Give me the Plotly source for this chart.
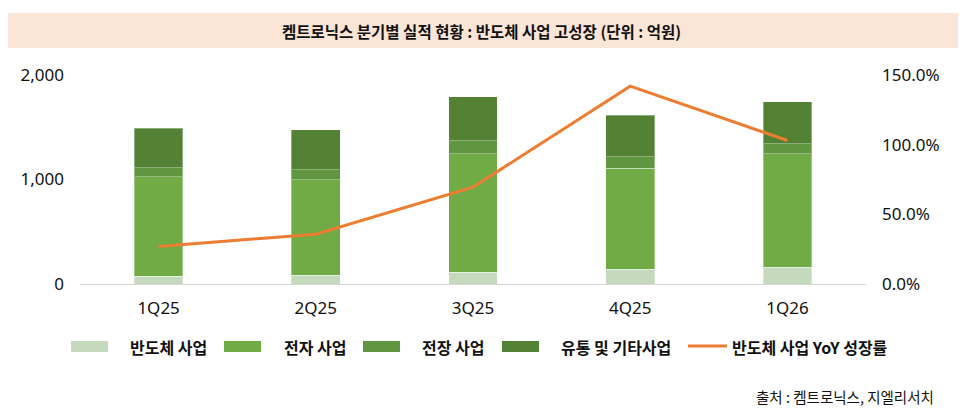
import plotly.graph_objects as go

# 분기별 실적 (억원)
quarters = ['1Q25', '2Q25', '3Q25', '4Q25', '1Q26']
semi = [76, 86, 114, 143, 162]          # 반도체 사업
electronics = [952, 914, 1133, 965, 1083]  # 전자 사업
auto = [86, 95, 124, 109, 98]           # 전장 사업
dist = [378, 381, 419, 400, 400]        # 유통 및 기타사업
semi_yoy = [27.0, 35.7, 69.5, 142.0, 103.0]  # 반도체 사업 YoY 성장률 (%)
yoy_ticks = [0, 50, 100, 150]

bar_names = ['반도체 사업', '전자 사업', '전장 사업', '유통 및 기타사업']
line_name = '반도체 사업 YoY 성장률'
bar_colors = ['#C5D9BC', '#70AB46', '#619641', '#548234']
line_color = '#ED7D31'

# page body has an 8px margin, so the figure is drawn 8px in and down
OFF = 8
W, H = 966 - OFF, 415 - OFF
# plot area in screen pixels
L, R, T, B = 80, 866, 75, 284


def px_x(x):
    return (x - L) / (R - L)


def px_y(y):
    return (B - y) / (B - T)


fig = go.Figure()

for name, vals, col in zip(bar_names, [semi, electronics, auto, dist], bar_colors):
    fig.add_trace(go.Bar(
        x=quarters, y=vals, name=name,
        marker=dict(color=col, line=dict(color='rgba(255,255,255,0.35)', width=1)),
        showlegend=False,
    ))

fig.add_trace(go.Scatter(
    x=quarters, y=semi_yoy, name=line_name, yaxis='y2',
    mode='lines', line=dict(color=line_color, width=3),
    showlegend=False,
))

tick_font = dict(family='Noto Sans, Lato, sans-serif', size=17, color='#111111')
kr_font = 'Noto Sans CJK KR, Noto Sans, sans-serif'

shapes = []
annotations = []

# title band
shapes.append(dict(type='rect', xref='paper', yref='paper',
                   x0=px_x(2), x1=px_x(962), y0=px_y(48), y1=px_y(13),
                   fillcolor='#FBE5D6', line=dict(width=0), layer='below'))
annotations.append(dict(xref='paper', yref='paper', x=px_x(481), y=px_y(31),
                        text='<b>켐트로닉스 분기별 실적 현황 : 반도체 사업 고성장 (단위 : 억원)</b>',
                        showarrow=False, xanchor='center', yanchor='middle',
                        font=dict(family=kr_font, size=15.5, color='#111111')))

# legend (drawn by hand to get wide swatches)
sw_x = [71, 224, 363, 502]
tx_x = [128, 282, 420, 559]
for name, col, sx, tx in zip(bar_names, bar_colors, sw_x, tx_x):
    shapes.append(dict(type='rect', xref='paper', yref='paper',
                       x0=px_x(sx), x1=px_x(sx + 37), y0=px_y(352), y1=px_y(341),
                       fillcolor=col, line=dict(width=0)))
    annotations.append(dict(xref='paper', yref='paper', x=px_x(tx), y=px_y(347),
                            text='<b>' + name + '</b>', showarrow=False,
                            xanchor='left', yanchor='middle',
                            font=dict(family=kr_font, size=16, color='#111111')))
shapes.append(dict(type='line', xref='paper', yref='paper',
                   x0=px_x(688), x1=px_x(727), y0=px_y(346), y1=px_y(346),
                   line=dict(color=line_color, width=3)))
annotations.append(dict(xref='paper', yref='paper', x=px_x(730), y=px_y(347),
                        text='<b>' + line_name + '</b>', showarrow=False,
                        xanchor='left', yanchor='middle',
                        font=dict(family=kr_font, size=16, color='#111111')))

# source
annotations.append(dict(xref='paper', yref='paper', x=px_x(936), y=px_y(396),
                        text='출처 : 켐트로닉스, 지엘리서치', showarrow=False,
                        xanchor='right', yanchor='middle',
                        font=dict(family=kr_font, size=14.5, color='#111111')))

fig.update_layout(
    width=W, height=H,
    margin=dict(l=L - OFF, r=966 - R, t=T - OFF, b=415 - B),
    paper_bgcolor='white', plot_bgcolor='white',
    barmode='stack', bargap=0.69,
    xaxis=dict(showgrid=False, showline=True, linecolor='#D9D9D9', linewidth=1,
               ticks='', tickfont=tick_font, ticklabelstandoff=9),
    yaxis=dict(range=[0, 2000], tickvals=[0, 1000, 2000], tickformat=',',
               showgrid=False, zeroline=False, showline=False,
               tickfont=tick_font, ticklabelstandoff=15),
    yaxis2=dict(range=[0, 150], tickvals=yoy_ticks,
                ticktext=['%.1f%%' % v for v in yoy_ticks],
                overlaying='y', side='right',
                showgrid=False, zeroline=False, showline=False,
                tickfont=tick_font, ticklabelstandoff=15),
    shapes=shapes,
    annotations=annotations,
    showlegend=False,
)

fig.write_html("out.html")
